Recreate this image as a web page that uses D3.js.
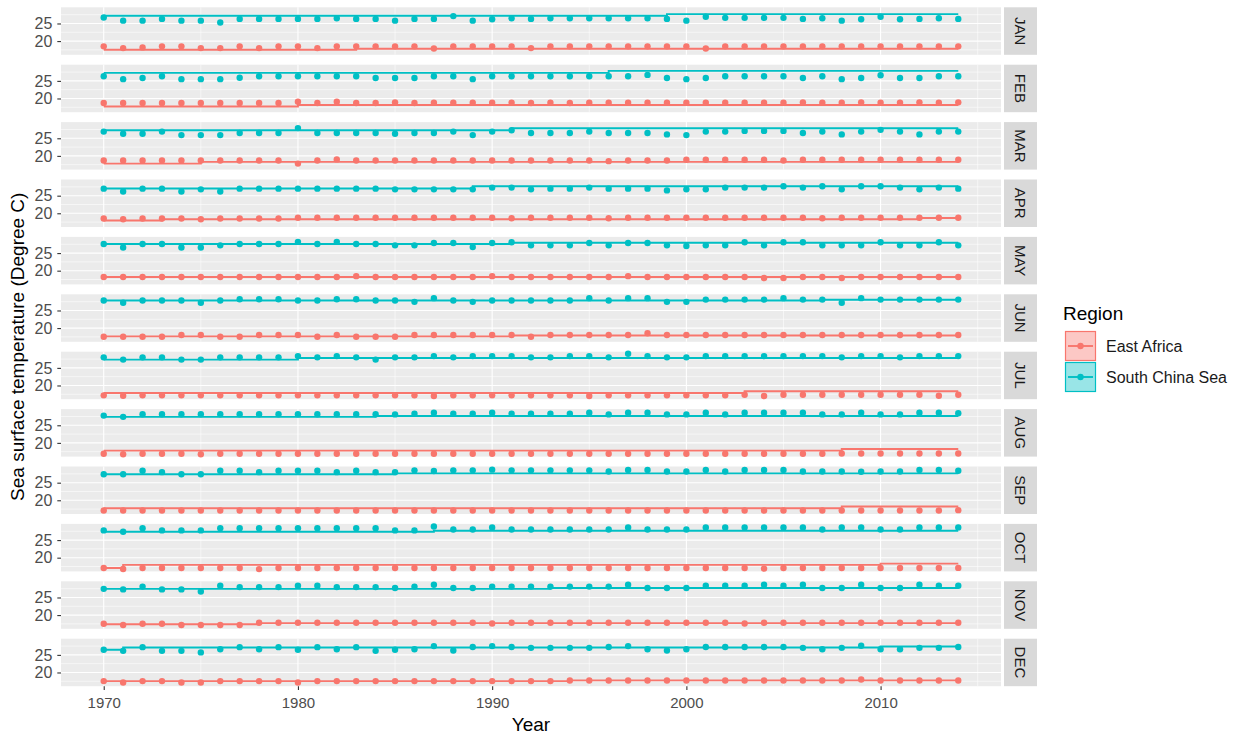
<!DOCTYPE html>
<html>
<head>
<meta charset="utf-8">
<script src="https://cdn.jsdelivr.net/npm/d3@7"></script>
<style>
  body { margin: 0; background: #fff; }
  text { font-family: "Liberation Sans", Arial, sans-serif; }
</style>
</head>
<body>
<svg id="chart" width="1244" height="736"></svg>
<script>
const months = ['JAN', 'FEB', 'MAR', 'APR', 'MAY', 'JUN', 'JUL', 'AUG', 'SEP', 'OCT', 'NOV', 'DEC']
const years = [
  1970, 1971, 1972, 1973, 1974, 1975, 1976, 1977, 1978, 1979, 1980, 1981, 1982, 1983, 1984,
  1985, 1986, 1987, 1988, 1989, 1990, 1991, 1992, 1993, 1994, 1995, 1996, 1997, 1998, 1999,
  2000, 2001, 2002, 2003, 2004, 2005, 2006, 2007, 2008, 2009, 2010, 2011, 2012, 2013, 2014
]
const regions = ['East Africa', 'South China Sea']
const xTicks = [1970, 1980, 1990, 2000, 2010]
const yTicks = [20, 25]

// yearly values per month, 1970..2014
const eastAfricaPoints = [
  [18.5, 18.0, 18.2, 18.5, 18.5, 18.0, 18.0, 18.5, 18.0, 18.5, 18.5, 18.0, 18.5, 18.5, 18.5,
   18.5, 18.5, 17.9, 18.5, 18.5, 18.5, 18.5, 18.0, 18.5, 18.5, 18.5, 18.5, 18.5, 18.5, 18.5,
   18.5, 17.9, 18.5, 18.5, 18.5, 18.5, 18.5, 18.5, 18.5, 18.5, 18.5, 18.5, 18.5, 18.5, 18.5],
  [18.7, 18.7, 18.7, 18.7, 18.7, 18.7, 18.7, 18.7, 18.7, 18.7, 19.1, 18.7, 19.1, 18.7, 18.7,
   18.9, 18.7, 18.8, 18.8, 18.8, 18.8, 18.8, 18.7, 18.8, 18.7, 18.8, 18.8, 18.8, 18.8, 18.8,
   18.8, 18.8, 18.8, 18.8, 18.8, 18.8, 18.9, 18.8, 18.8, 18.9, 18.8, 18.8, 18.9, 18.8, 18.9],
  [18.7, 18.7, 18.7, 18.7, 18.7, 18.7, 18.7, 18.7, 18.7, 18.7, 17.8, 18.7, 19.0, 18.7, 18.7,
   18.7, 18.7, 18.7, 18.7, 18.7, 18.7, 18.7, 18.7, 18.7, 18.7, 18.7, 18.5, 18.7, 18.7, 18.7,
   18.9, 18.9, 18.9, 18.9, 18.9, 18.7, 18.9, 18.9, 18.9, 18.9, 18.9, 18.9, 18.9, 18.9, 18.9],
  [18.5, 18.3, 18.5, 18.5, 18.5, 18.3, 18.5, 18.5, 18.5, 18.5, 18.75, 18.75, 18.75, 18.75, 18.75,
   18.75, 18.75, 18.75, 18.75, 18.75, 18.75, 18.6, 18.75, 18.75, 18.75, 18.75, 18.6, 18.75, 18.75, 18.75,
   18.75, 18.75, 18.75, 18.75, 18.75, 18.75, 18.75, 18.6, 18.75, 18.75, 18.75, 18.75, 18.75, 18.75, 18.75],
  [18.2, 18.2, 18.2, 18.2, 18.2, 18.2, 18.2, 18.2, 18.2, 18.2, 18.2, 18.2, 18.2, 18.45, 18.2,
   18.2, 18.2, 18.2, 18.2, 18.2, 18.45, 18.2, 18.2, 18.2, 18.2, 18.2, 18.2, 18.45, 18.2, 18.2,
   18.2, 18.2, 18.2, 18.2, 17.9, 17.9, 18.2, 18.2, 17.9, 18.2, 18.2, 18.2, 18.2, 18.2, 18.2],
  [17.55, 17.55, 17.55, 17.55, 18.05, 18.05, 17.55, 17.55, 18.05, 18.05, 18.05, 17.55, 18.05, 17.55, 17.55,
   17.55, 18.05, 18.05, 18.05, 18.05, 18.05, 18.05, 17.55, 18.05, 18.05, 18.05, 18.05, 18.05, 18.55, 18.05,
   18.05, 18.05, 18.05, 18.05, 18.05, 18.05, 18.05, 18.05, 18.05, 18.05, 18.05, 18.05, 18.05, 18.05, 18.05],
  [17.2, 17.1, 17.2, 17.2, 17.2, 17.2, 17.2, 17.2, 17.2, 17.2, 17.2, 17.2, 17.2, 17.2, 17.2,
   17.2, 17.2, 17.0, 17.2, 17.2, 17.2, 17.2, 17.2, 17.2, 17.2, 17.0, 17.2, 17.2, 17.2, 17.2,
   17.2, 17.2, 17.2, 17.35, 17.0, 17.35, 17.35, 17.35, 17.35, 17.35, 17.35, 17.35, 17.35, 17.1, 17.35],
  [16.9, 16.75, 16.9, 16.9, 16.9, 16.75, 16.9, 16.9, 16.9, 16.9, 16.9, 16.9, 16.9, 16.9, 16.9,
   16.9, 16.9, 16.9, 16.9, 16.9, 16.9, 16.9, 16.9, 16.9, 16.9, 16.9, 16.9, 16.9, 16.9, 16.9,
   16.9, 16.9, 16.9, 16.9, 16.9, 16.9, 16.9, 16.9, 17.0, 17.0, 17.0, 17.0, 17.0, 17.0, 17.0],
  [17.1, 17.1, 17.1, 17.1, 17.1, 17.1, 17.1, 17.1, 17.1, 17.1, 17.1, 17.1, 17.1, 17.1, 17.1,
   17.1, 17.1, 17.1, 17.1, 17.1, 17.1, 17.1, 17.1, 17.1, 17.1, 17.1, 17.1, 17.1, 17.1, 17.1,
   17.1, 17.1, 17.1, 17.1, 17.1, 17.1, 17.1, 17.1, 17.1, 17.1, 17.1, 17.1, 17.1, 17.1, 17.2],
  [17.05, 16.8, 17.05, 17.05, 17.05, 17.05, 17.05, 17.05, 16.75, 17.05, 17.05, 17.05, 17.05, 17.05, 17.05,
   17.05, 17.05, 17.05, 17.05, 17.05, 17.05, 17.05, 17.05, 17.05, 17.05, 17.05, 17.05, 17.05, 17.05, 17.05,
   17.05, 17.05, 17.05, 17.05, 16.9, 17.05, 17.05, 17.05, 17.05, 17.05, 17.05, 17.05, 17.05, 17.05, 17.1],
  [17.55, 17.2, 17.55, 17.55, 17.2, 17.2, 17.2, 17.2, 17.8, 17.8, 17.8, 17.8, 17.8, 17.8, 17.8,
   17.8, 17.8, 17.8, 17.8, 17.8, 17.6, 17.8, 17.8, 17.8, 17.8, 17.8, 17.8, 17.8, 17.8, 17.8,
   17.8, 17.8, 17.8, 17.6, 17.8, 17.8, 17.8, 17.8, 17.8, 17.8, 17.8, 17.8, 17.8, 17.8, 17.8],
  [17.55, 17.15, 17.55, 17.55, 17.15, 17.15, 17.55, 17.55, 17.55, 17.55, 17.15, 17.55, 17.55, 17.55, 17.55,
   17.55, 17.55, 17.55, 17.55, 17.55, 17.55, 17.55, 17.55, 17.55, 17.7, 17.7, 17.7, 17.7, 17.7, 17.7,
   17.7, 17.7, 17.7, 17.7, 17.7, 17.7, 17.7, 17.7, 17.7, 18.0, 17.7, 17.7, 17.7, 17.7, 17.7]
]

const southChinaSeaPoints = [
  [26.7, 25.8, 25.8, 26.3, 25.8, 25.8, 25.3, 26.3, 26.3, 26.3, 26.3, 26.3, 26.5, 26.3, 26.3,
   25.8, 26.3, 26.3, 27.1, 25.8, 26.2, 26.5, 26.3, 26.5, 26.5, 26.5, 26.5, 26.5, 26.5, 26.3,
   25.8, 26.9, 26.6, 26.6, 26.6, 26.6, 26.3, 26.5, 25.8, 26.2, 26.9, 26.2, 26.3, 26.5, 26.3],
  [26.3, 25.5, 25.8, 26.3, 25.5, 25.5, 25.5, 25.9, 26.3, 26.3, 26.3, 26.3, 26.3, 26.3, 25.8,
   25.8, 25.8, 26.3, 26.3, 25.5, 26.3, 26.3, 26.3, 26.3, 26.3, 26.3, 26.3, 26.3, 26.7, 25.8,
   25.5, 25.8, 26.3, 26.3, 26.3, 26.3, 25.8, 26.3, 25.5, 25.8, 26.6, 25.8, 25.8, 26.3, 26.3],
  [26.9, 26.3, 26.3, 26.9, 25.9, 25.9, 25.9, 26.5, 26.5, 26.5, 27.9, 26.5, 26.5, 26.5, 26.5,
   26.3, 26.5, 26.5, 26.9, 25.9, 26.9, 27.3, 26.5, 26.5, 26.5, 26.9, 26.5, 26.5, 26.5, 26.1,
   25.9, 26.9, 26.9, 27.1, 27.1, 27.1, 26.5, 26.9, 26.1, 26.9, 27.4, 26.9, 26.1, 26.9, 26.9],
  [27.0, 26.2, 27.0, 27.0, 26.2, 26.8, 26.2, 27.0, 27.0, 27.0, 27.0, 27.0, 27.0, 27.0, 27.0,
   26.8, 26.8, 26.8, 26.8, 26.8, 27.3, 27.3, 26.8, 27.0, 27.0, 27.3, 27.0, 27.0, 27.0, 26.5,
   26.8, 26.8, 27.3, 27.3, 27.3, 27.7, 27.3, 27.7, 26.8, 27.7, 27.7, 27.3, 26.8, 27.3, 27.0],
  [27.6, 26.6, 27.6, 27.6, 26.6, 26.6, 27.2, 27.6, 27.6, 27.6, 28.2, 27.6, 28.2, 27.6, 27.6,
   27.2, 27.2, 27.85, 27.85, 26.7, 27.85, 28.1, 27.2, 27.2, 27.2, 27.85, 27.2, 27.85, 27.85, 27.2,
   27.0, 27.2, 27.2, 28.1, 27.2, 28.1, 28.1, 27.2, 27.2, 27.2, 28.1, 27.2, 27.2, 28.1, 27.2],
  [27.85, 27.2, 27.85, 27.85, 27.85, 27.2, 27.85, 28.2, 28.2, 28.2, 27.85, 27.85, 28.2, 28.2, 27.85,
   27.85, 27.45, 28.5, 27.85, 27.45, 27.85, 27.85, 27.85, 27.85, 27.85, 28.5, 27.85, 28.5, 28.5, 27.45,
   27.45, 28.1, 28.1, 28.1, 28.1, 28.5, 28.1, 28.1, 27.2, 28.5, 28.1, 28.1, 28.1, 28.1, 28.1],
  [28.0, 27.35, 28.0, 28.0, 27.35, 27.35, 28.0, 28.0, 28.0, 28.0, 28.35, 28.0, 28.35, 28.0, 27.35,
   28.0, 28.0, 28.35, 28.0, 28.35, 28.35, 28.35, 28.0, 28.0, 28.35, 28.35, 28.0, 29.0, 28.35, 28.0,
   28.0, 28.35, 28.35, 28.35, 28.35, 28.35, 28.35, 28.35, 28.0, 28.35, 28.35, 28.0, 28.35, 28.35, 28.35],
  [27.75, 27.4, 28.15, 28.15, 28.15, 28.15, 28.15, 28.15, 28.15, 28.15, 28.15, 28.15, 28.15, 28.15, 28.15,
   28.1, 28.3, 28.55, 28.3, 28.3, 28.55, 28.3, 28.3, 28.3, 28.3, 28.55, 28.1, 28.55, 28.55, 28.1,
   28.1, 28.55, 28.1, 28.55, 28.55, 28.55, 28.55, 28.1, 28.1, 28.55, 28.1, 28.1, 28.55, 28.55, 28.4],
  [27.4, 27.4, 28.4, 28.0, 27.4, 27.4, 28.4, 28.4, 28.0, 28.4, 28.4, 28.4, 28.0, 28.4, 28.0,
   28.0, 28.5, 28.3, 28.5, 28.5, 28.7, 28.5, 28.5, 28.5, 28.5, 28.5, 28.2, 28.6, 28.6, 28.2,
   28.2, 28.6, 28.2, 28.6, 28.6, 28.6, 28.2, 28.2, 28.2, 28.1, 28.2, 28.2, 28.6, 28.6, 28.4],
  [27.75, 27.35, 28.35, 27.75, 27.75, 27.75, 28.35, 28.35, 28.35, 28.35, 28.35, 28.35, 28.35, 28.35, 28.35,
   27.75, 27.75, 28.85, 28.0, 28.0, 28.6, 28.0, 28.0, 28.0, 28.0, 28.0, 28.0, 28.6, 28.0, 28.0,
   28.0, 28.6, 28.6, 28.6, 28.6, 28.6, 28.6, 28.0, 28.6, 28.6, 28.0, 28.0, 28.6, 28.6, 28.6],
  [27.45, 27.3, 28.1, 27.3, 27.3, 26.7, 28.35, 27.95, 27.95, 27.95, 28.35, 28.35, 27.95, 27.95, 27.95,
   27.7, 28.1, 28.6, 27.7, 27.7, 28.1, 28.1, 28.1, 28.1, 28.1, 28.1, 28.1, 28.6, 27.7, 27.7,
   27.7, 28.35, 28.35, 28.35, 28.6, 28.35, 28.6, 27.7, 27.7, 28.6, 27.7, 27.7, 28.6, 28.35, 28.35],
  [26.45, 26.15, 27.2, 26.15, 26.15, 25.7, 26.6, 27.2, 26.6, 27.2, 26.45, 27.2, 26.6, 27.2, 26.15,
   26.45, 26.6, 27.5, 26.25, 27.25, 27.5, 27.25, 27.0, 27.0, 27.0, 27.0, 27.25, 27.5, 26.6, 26.25,
   26.6, 27.25, 27.25, 27.25, 27.25, 27.25, 27.0, 26.6, 27.0, 27.6, 26.6, 26.6, 27.0, 27.0, 27.25]
]

// fitted step levels per month: [start year, level]
const eastAfricaFit = [
  [[1970, 17.53], [1983, 17.82]],
  [[1970, 17.7], [1980, 18.15]],
  [[1970, 17.8], [1975, 18.3]],
  [[1970, 17.95], [1973, 18.3], [2012, 18.65]],
  [[1970, 18.2]],
  [[1970, 17.65], [1991, 17.9]],
  [[1970, 17.85], [2003, 18.35]],
  [[1970, 17.8], [2008, 18.25]],
  [[1970, 17.75], [2008, 18.25]],
  [[1970, 17.05], [1971, 17.95], [2010, 18.3]],
  [[1970, 17.4], [1978, 17.7]],
  [[1970, 17.53], [1994, 17.75]]
]

const southChinaSeaFit = [
  [[1970, 27.2], [1999, 27.67]],
  [[1970, 27.27], [1996, 27.85]],
  [[1970, 27.27], [1991, 27.85]],
  [[1970, 27.04], [1989, 27.67]],
  [[1970, 27.6], [1991, 27.95]],
  [[1970, 27.85], [2007, 28.05]],
  [[1970, 27.35], [1980, 27.8]],
  [[1970, 27.4], [1984, 27.65]],
  [[1970, 27.4], [1985, 27.65]],
  [[1970, 27.35], [1987, 27.65]],
  [[1970, 27.45], [1993, 27.7]],
  [[1970, 26.45], [1971, 27.1], [2010, 27.4]]
]

const settings = {
  left: 61, right: 1001,
  top: 7.3, panelHeight: 47.5, panelStep: 57.4,
  stripWidth: 33, stripGap: 3
}

const colors = d3.scaleOrdinal().domain(regions).range(['#F8766D', '#00BFC4'])
const series = [
  { name: regions[0], points: eastAfricaPoints, fit: eastAfricaFit },
  { name: regions[1], points: southChinaSeaPoints, fit: southChinaSeaFit }
]

const svg = d3.select('#chart')

const x = d3.scaleLinear()
  .domain([1967.8, 2016.2])
  .range([settings.left, settings.right])

const y = d3.scaleLinear()
  .domain([16.1, 29.6])
  .range([settings.panelHeight, 0])

const stepLine = d3.line()
  .x(d => x(d[0]))
  .y(d => y(d[1]))
  .curve(d3.curveStepAfter)

const lastYear = years[years.length - 1]

months.forEach((month, i) => {
  const panel = svg.append('g')
    .attr('class', 'panel')
    .attr('transform', `translate(0,${ settings.top + i * settings.panelStep })`)

  panel.append('rect')
    .attr('x', settings.left)
    .attr('width', settings.right - settings.left)
    .attr('height', settings.panelHeight)
    .attr('fill', '#EBEBEB')

  // minor grid
  const xMinor = xTicks.map(d => d + 5)
  const yMinor = [17.5, 22.5, 27.5]
  panel.selectAll('line.xminor').data(xMinor).enter().append('line')
    .attr('x1', d => x(d)).attr('x2', d => x(d))
    .attr('y1', 0).attr('y2', settings.panelHeight)
    .attr('stroke', '#fff').attr('stroke-width', 0.55)
  panel.selectAll('line.yminor').data(yMinor).enter().append('line')
    .attr('x1', settings.left).attr('x2', settings.right)
    .attr('y1', d => y(d)).attr('y2', d => y(d))
    .attr('stroke', '#fff').attr('stroke-width', 0.55)

  // major grid
  panel.selectAll('line.xmajor').data(xTicks).enter().append('line')
    .attr('x1', d => x(d)).attr('x2', d => x(d))
    .attr('y1', 0).attr('y2', settings.panelHeight)
    .attr('stroke', '#fff').attr('stroke-width', 1.1)
  panel.selectAll('line.ymajor').data(yTicks).enter().append('line')
    .attr('x1', settings.left).attr('x2', settings.right)
    .attr('y1', d => y(d)).attr('y2', d => y(d))
    .attr('stroke', '#fff').attr('stroke-width', 1.1)

  // y axis
  const yAxis = panel.append('g')
    .attr('transform', `translate(${ settings.left },0)`)
    .call(d3.axisLeft(y).tickValues(yTicks).tickSize(3.7).tickPadding(5))
  yAxis.select('.domain').remove()
  yAxis.selectAll('line').attr('stroke', '#333').attr('stroke-width', 1.1)
  yAxis.selectAll('text')
    .attr('fill', '#4D4D4D')
    .style('font-size', '16px')
    .style('font-family', '"Liberation Sans", Arial, sans-serif')

  series.forEach(s => {
    const fit = s.fit[i]
    const pathData = fit.concat([[lastYear, fit[fit.length - 1][1]]])
    panel.append('path')
      .attr('d', stepLine(pathData))
      .attr('fill', 'none')
      .attr('stroke', colors(s.name))
      .attr('stroke-width', 1.9)

    panel.selectAll(null).data(s.points[i]).enter().append('circle')
      .attr('cx', (d, j) => x(years[j]))
      .attr('cy', d => y(d))
      .attr('r', 3.2)
      .attr('fill', colors(s.name))
  })

  // strip
  const stripX = settings.right + settings.stripGap
  panel.append('rect')
    .attr('x', stripX)
    .attr('width', settings.stripWidth)
    .attr('height', settings.panelHeight)
    .attr('fill', '#D9D9D9')
  panel.append('text')
    .attr('transform', `translate(${ stripX + settings.stripWidth / 2 },${ settings.panelHeight / 2 }) rotate(90)`)
    .attr('text-anchor', 'middle')
    .attr('dy', '0.35em')
    .attr('fill', '#1A1A1A')
    .style('font-size', '15px')
    .text(month)
})

// x axis below the last panel
const bottom = settings.top + (months.length - 1) * settings.panelStep + settings.panelHeight
const xAxis = svg.append('g')
  .attr('transform', `translate(0,${ bottom })`)
  .call(d3.axisBottom(x).tickValues(xTicks).tickFormat(d3.format('d')).tickSize(3.7).tickPadding(7))
xAxis.select('.domain').remove()
xAxis.selectAll('line').attr('stroke', '#333').attr('stroke-width', 1.1)
xAxis.selectAll('text')
  .attr('fill', '#4D4D4D')
  .style('font-size', '15px')
  .style('font-family', '"Liberation Sans", Arial, sans-serif')

svg.append('text')
  .attr('x', (settings.left + settings.right) / 2)
  .attr('y', 731)
  .attr('text-anchor', 'middle')
  .attr('fill', '#000')
  .style('font-size', '19px')
  .text('Year')

svg.append('text')
  .attr('transform', `translate(24,${ (settings.top + bottom) / 2 }) rotate(-90)`)
  .attr('text-anchor', 'middle')
  .attr('fill', '#000')
  .style('font-size', '19px')
  .text('Sea surface temperature (Degree C)')

// legend
const legend = svg.append('g')
  .attr('class', 'legend')
  .attr('transform', 'translate(1063,0)')

legend.append('text')
  .attr('x', 0)
  .attr('y', 320)
  .attr('fill', '#000')
  .style('font-size', '19px')
  .text('Region')

const keys = legend.selectAll('g.key').data(regions)
  .enter().append('g')
  .attr('class', 'key')
  .attr('transform', (d, i) => `translate(2,${ 331 + i * 31 })`)

keys.append('rect')
  .attr('x', 0.5).attr('y', 0.5)
  .attr('width', 30).attr('height', 29)
  .attr('fill', d => colors(d))
  .attr('fill-opacity', 0.4)
  .attr('stroke', d => colors(d))
  .attr('stroke-width', 1.2)

keys.append('line')
  .attr('x1', 3).attr('x2', 28)
  .attr('y1', 15).attr('y2', 15)
  .attr('stroke', d => colors(d))
  .attr('stroke-width', 1.9)

keys.append('circle')
  .attr('cx', 15.5).attr('cy', 15)
  .attr('r', 3.2)
  .attr('fill', d => colors(d))

keys.append('text')
  .attr('x', 41)
  .attr('y', 15)
  .attr('dy', '0.35em')
  .attr('fill', '#1A1A1A')
  .style('font-size', '16px')
  .text(d => d)
</script>
</body>
</html>
